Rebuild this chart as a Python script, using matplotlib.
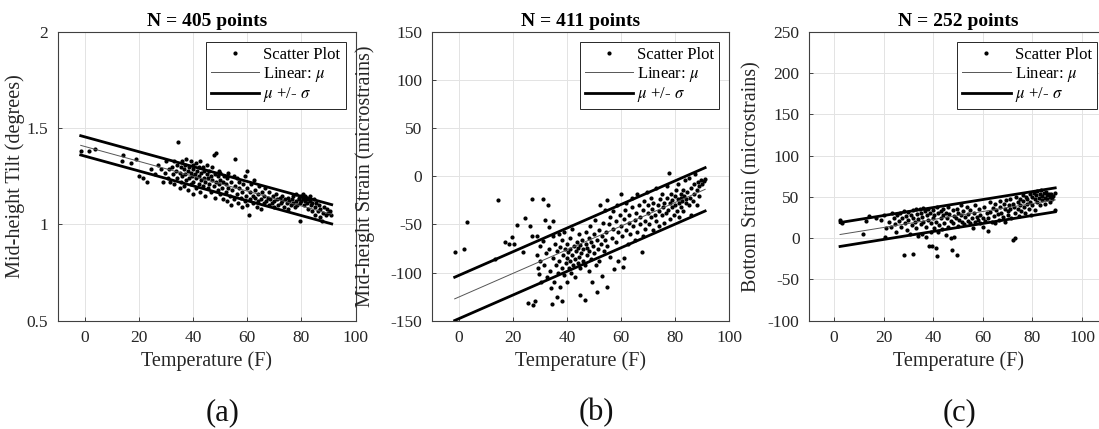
import numpy as np
import matplotlib
matplotlib.use("Agg")
import matplotlib.pyplot as plt
from matplotlib.ticker import FormatStrFormatter

plt.rcParams['font.family'] = ['Liberation Serif', 'DejaVu Serif']
plt.rcParams['mathtext.fontset'] = 'stix'
plt.rcParams['axes.unicode_minus'] = False

# Data: (temperature F, value)
tilt_pts = [
    (-1.5, 1.38), (1.5, 1.38), (3.5, 1.39), (13.5, 1.33), (14, 1.36), (17, 1.32), (19, 1.34), (20, 1.25),
    (21.5, 1.24), (23, 1.22), (24.5, 1.29), (26, 1.26), (27, 1.31), (28, 1.29), (29, 1.22), (29.5, 1.27),
    (30, 1.33), (30.5, 1.24), (31, 1.29), (31.5, 1.22), (32, 1.30), (32.5, 1.26), (33, 1.21), (33, 1.33),
    (33.5, 1.28), (34, 1.24), (34, 1.31), (34.5, 1.43), (35, 1.19), (35, 1.27), (35.5, 1.30), (35.5, 1.22),
    (36, 1.25), (36, 1.33), (36.5, 1.20), (36.5, 1.29), (37, 1.26), (37, 1.31), (37.5, 1.23), (37.5, 1.34),
    (38, 1.18), (38, 1.28), (38.5, 1.24), (38.5, 1.30), (39, 1.21), (39, 1.27), (39, 1.33), (39.5, 1.25),
    (40, 1.16), (40, 1.22), (40, 1.29), (40, 1.31), (40.5, 1.26), (41, 1.19), (41, 1.24), (41, 1.32),
    (41.5, 1.28), (42, 1.21), (42, 1.25), (42, 1.30), (42.5, 1.17), (42.5, 1.33), (43, 1.23), (43, 1.27),
    (43.5, 1.20), (43.5, 1.30), (44, 1.24), (44, 1.28), (44.5, 1.15), (44.5, 1.22), (45, 1.26), (45, 1.31),
    (45.5, 1.19), (45.5, 1.24), (46, 1.28), (46, 1.21), (46.5, 1.25), (46.5, 1.17), (47, 1.23), (47, 1.30),
    (47.5, 1.20), (47.5, 1.36), (48, 1.26), (48, 1.14), (48.5, 1.22), (48.5, 1.37), (49, 1.18), (49, 1.25),
    (49.5, 1.21), (49.5, 1.28), (50, 1.16), (50, 1.23), (50, 1.27), (50.5, 1.19), (51, 1.13), (51, 1.22),
    (51.5, 1.25), (52, 1.17), (52, 1.21), (52.5, 1.12), (52.5, 1.24), (53, 1.19), (53, 1.27), (53.5, 1.15),
    (54, 1.22), (54, 1.10), (54.5, 1.18), (55, 1.25), (55, 1.13), (55.5, 1.20), (55.5, 1.34), (56, 1.16),
    (56, 1.24), (56.5, 1.11), (57, 1.19), (57, 1.22), (57.5, 1.14), (58, 1.09), (58, 1.17), (58.5, 1.21),
    (59, 1.12), (59, 1.25), (59.5, 1.15), (60, 1.19), (60, 1.10), (60, 1.28), (60.5, 1.05), (61, 1.13),
    (61, 1.17), (61.5, 1.21), (62, 1.15), (62, 1.11), (62.5, 1.23), (63, 1.14), (63, 1.18), (63.5, 1.09),
    (64, 1.16), (64, 1.12), (64.5, 1.20), (65, 1.13), (65, 1.08), (65.5, 1.17), (66, 1.11), (66, 1.15),
    (66.5, 1.19), (67, 1.12), (67.5, 1.14), (68, 1.10), (68, 1.17), (68.5, 1.13), (69, 1.11), (69.5, 1.15),
    (70, 1.12), (70, 1.09), (70.5, 1.16), (71, 1.13), (71.5, 1.10), (72, 1.14), (72.5, 1.11), (73, 1.12),
    (73, 1.15), (73.5, 1.09), (74, 1.13), (74.5, 1.11), (75, 1.14), (75, 1.08), (75.5, 1.12), (76, 1.10),
    (76.5, 1.13), (77, 1.11), (77, 1.15), (77.5, 1.09), (78, 1.12), (78, 1.16), (78.5, 1.10), (79, 1.14),
    (79, 1.13), (79.5, 1.11), (79.5, 1.02), (80, 1.15), (80, 1.12), (80.5, 1.14), (80.5, 1.16), (81, 1.13),
    (81, 1.10), (81.5, 1.15), (81.5, 1.12), (82, 1.14), (82, 1.11), (82.5, 1.13), (82.5, 1.08), (83, 1.12),
    (83, 1.15), (83.5, 1.10), (84, 1.11), (84, 1.07), (84.5, 1.13), (85, 1.09), (85, 1.05), (85.5, 1.11),
    (86, 1.07), (86.5, 1.10), (87, 1.04), (87, 1.08), (87.5, 1.02), (88, 1.06), (88.5, 1.09), (89, 1.05),
    (89.5, 1.08), (90, 1.06), (90.5, 1.07), (91, 1.05),
]

mid_strain_pts = [
    (-1.5, -79), (1.8, -75), (3, -47), (13.5, -86), (14.5, -25), (17, -68), (18.5, -70), (19.8, -63),
    (20.4, -70), (21.4, -51), (23.8, -79), (24.5, -43), (25.5, -132), (26.5, -52), (27, -62), (27.2, -24),
    (27.5, -134), (28.3, -130), (28.8, -82), (29, -62), (29.3, -95), (29.6, -101), (30, -72), (30.2, -88),
    (30.5, -110), (31, -24), (31, -67), (31.5, -92), (32, -45), (32.2, -80), (32.5, -105), (33, -30),
    (33.2, -53), (33.5, -75), (33.8, -98), (34, -116), (34.5, -133), (34.8, -62), (35, -46), (35, -85),
    (35.3, -110), (35.6, -70), (36, -92), (36.2, -125), (36.5, -78), (36.8, -100), (37, -60), (37, -88),
    (37.3, -115), (37.6, -73), (38, -130), (38, -95), (38.3, -66), (38.6, -82), (39, -102), (39, -58),
    (39.3, -76), (39.6, -90), (40, -70), (40, -85), (40.2, -110), (40.5, -79), (40.8, -95), (41, -64),
    (41, -88), (41.3, -75), (41.6, -100), (42, -82), (42, -55), (42.3, -92), (42.6, -72), (43, -86),
    (43, -105), (43.3, -78), (43.6, -68), (44, -90), (44, -74), (44.3, -60), (44.6, -84), (44.8, -123),
    (45, -95), (45, -71), (45.3, -80), (45.6, -66), (46, -88), (46, -76), (46.5, -92), (46.8, -128),
    (47, -70), (47, -58), (47.3, -82), (47.6, -74), (48, -64), (48, -98), (48.3, -78), (48.6, -52),
    (49, -86), (49, -68), (49.3, -110), (49.6, -72), (50, -60), (50, -80), (50.3, -45), (50.6, -92),
    (51, -66), (51.3, -120), (51.5, -75), (52, -56), (52, -88), (52.3, -30), (52.6, -70), (53, -62),
    (53, -104), (53.3, -48), (53.6, -78), (54, -35), (54, -66), (54.5, -58), (54.8, -115), (55, -25),
    (55, -72), (55.5, -50), (56, -42), (56, -84), (56.5, -64), (57, -36), (57, -55), (57.5, -96),
    (58, -46), (58, -68), (58.5, -30), (59, -58), (59, -88), (59.5, -40), (60, -18), (60, -52),
    (60.3, -62), (60.6, -94), (61, -44), (61, -85), (61.5, -35), (62, -56), (62, -28), (62.5, -70),
    (63, -48), (63, -40), (63.5, -60), (64, -22), (64, -32), (64.5, -52), (65, -45), (65, -66),
    (65.5, -38), (66, -58), (66, -18), (66.5, -30), (67, -50), (67, -42), (67.8, -79), (68, -35),
    (68, -62), (68.5, -26), (69, -46), (69, -55), (69.5, -16), (70, -38), (70, -30), (70.5, -50),
    (71, -42), (71, -22), (71.5, -34), (72, -56), (72, -28), (72.5, -40), (73, -12), (73, -46),
    (73.5, -30), (74, -36), (74, -52), (74.5, -24), (75, -40), (75, -18), (75.5, -32), (76, -48),
    (76, -28), (76.5, -38), (77, -22), (77, -10), (77.5, -35), (77.9, 3), (78, -28), (78, -44),
    (78.5, -18), (79, -32), (79, -25), (79.5, -40), (80, -20), (80, -30), (80.3, -14), (80.6, -36),
    (81, -24), (81, -8), (81.3, -28), (81.6, -42), (82, -18), (82, -32), (82.3, -22), (82.6, -26),
    (83, -14), (83, -36), (83.3, -20), (83.6, -4), (84, -28), (84, -24), (84.5, -16), (85, -2),
    (85, -30), (85.5, -22), (86, -12), (86, -40), (86.5, -26), (87, -8), (87, -18), (87.5, 2),
    (88, -14), (88, -30), (88.5, -6), (89, -10), (89, -20), (89.5, -4), (90, -8), (90.5, -5), (91, -3),
]

bottom_strain_pts = [
    (2.5, 22), (2.7, 20), (3, 19), (11.6, 5), (13, 21), (14, 27), (17, 24), (19, 22), (20, 28), (20.5, 1),
    (21, 12), (22, 20), (23, 14), (23.5, 30), (24, 24), (24.5, 17), (25, 8), (25.5, 28), (26, 21),
    (26.5, 31), (27, 13), (27.5, 25), (28, -20), (28, 33), (28.5, 18), (29, 27), (29.5, 10), (30, 32),
    (30, 22), (30.5, 5), (31, 28), (31.7, -19), (31.5, 16), (32, 34), (32, 25), (32.5, 20), (33, 35),
    (33, 12), (33.5, 29), (34, 3), (34, 23), (34.5, 36), (35, 30), (35, 17), (35.5, 5), (35.5, 26),
    (36, 37), (36, 20), (36.5, 33), (37, 2), (37, 14), (37.5, 28), (38, 36), (38, 22), (38.4, -10),
    (38.5, 31), (39, 18), (39, 8), (39.6, -10), (40, 34), (40, 25), (40.5, 12), (40.5, 28), (41, -12),
    (41.2, 20), (41.5, -21), (41.5, 38), (42, 30), (42, 7), (42.5, 16), (43, 33), (43, 24), (43.5, 11),
    (44, 36), (44, 28), (44.5, 19), (45, 4), (45, 31), (45.5, 25), (46, 14), (46, 38), (46.5, 29),
    (47, 0), (47, 21), (47.6, -14), (48, 34), (48, 18), (48.5, 1), (48.5, 27), (49, 24), (49.4, -20),
    (49.5, 36), (50, 30), (50, 15), (50.5, 22), (51, 40), (51, 28), (51.5, 20), (52, 33), (52.5, 17),
    (53, 26), (53.5, 38), (54, 21), (54, 29), (55, 18), (55, 34), (55.5, 24), (56, 12), (56.5, 31),
    (57, 20), (57, 40), (57.5, 26), (58, 22), (58.5, 35), (59, 18), (59, 28), (60, 24), (60, 14),
    (60.5, 38), (61, 21), (61.5, 30), (62, 25), (62, 9), (63, 44), (63, 32), (63.5, 20), (64, 37),
    (64.5, 27), (65, 19), (65, 41), (65.5, 34), (66, 29), (66.5, 22), (67, 45), (67, 38), (67.5, 31),
    (68, 26), (68.5, 42), (69, 36), (69, 20), (69.5, 46), (70, 33), (70, 28), (70.5, 40), (71, 48),
    (71, 35), (71.5, 25), (72, -2), (72, 42), (72.5, 38), (73, 0), (73, 30), (73.5, 50), (74, 44),
    (74, 36), (74.5, 27), (75, 48), (75, 40), (75.5, 33), (76, 52), (76, 45), (76.5, 38), (77, 30),
    (77.5, 50), (78, 42), (78, 47), (78.5, 36), (79, 53), (79, 44), (79.5, 28), (80, 50), (80, 40),
    (80.5, 55), (81, 47), (81, 34), (81.5, 52), (82, 44), (82, 57), (82.5, 49), (83, 54), (83, 40),
    (83.5, 58), (84, 51), (84, 46), (84.5, 55), (85, 49), (85, 42), (85.5, 56), (86, 52), (86, 47),
    (86.5, 54), (87, 50), (87, 44), (87.5, 53), (88, 48), (88.5, 51), (89, 34), (89, 55),
]

# Linear fit lines (end points) and sigma
fit_x_a, mu_a, sd_a = [-1.6, 91.2], [1.411, 1.053], 0.05
fit_x_b, mu_b, sd_b = [-1.5, 91.1], [-127.3, -13.5], 22.5
fit_x_c, mu_c, sd_c = [2.4, 89.2], [4.5, 46.5], 14.5

titles = ["N = 405 points", "N = 411 points", "N = 252 points"]
ylabels = ["Mid-height Tilt (degrees)", "Mid-height Strain (microstrains)", "Bottom Strain (microstrains)"]
panel_tags = ["(a)", "(b)", "(c)"]
ylims = [(0.5, 2), (-150, 150), (-100, 250)]
yticks = [[0.5, 1, 1.5, 2], np.arange(-150, 151, 50), np.arange(-100, 251, 50)]
xlims = [(-10, 100), (-10, 100), (-10, 110)]

W, H = 1099, 429
fig = plt.figure(figsize=(W / 100, H / 100), dpi=100)
fig.patch.set_facecolor("white")

ax_left = [58, 431.7, 809.3]
ax_w, ax_h, ax_bot = 297.5, 288.7, 108.3
ylab_x = [-0.11, -0.19, -0.16]
tag_x = [223, 596, 960]

datasets = [
    (tilt_pts, fit_x_a, mu_a, sd_a),
    (mid_strain_pts, fit_x_b, mu_b, sd_b),
    (bottom_strain_pts, fit_x_c, mu_c, sd_c),
]

for i, (pts, fx, fmu, fsd) in enumerate(datasets):
    ax = fig.add_axes([ax_left[i] / W, ax_bot / H, ax_w / W, ax_h / H])
    pts = np.array(pts)
    fx = np.array(fx)
    fmu = np.array(fmu)

    ax.plot(pts[:, 0], pts[:, 1], ls="none", marker="o", ms=2.0, color="black", label="Scatter Plot")
    ax.plot(fx, fmu, color="#555555", lw=0.7, label=r"Linear: $\mu$")
    ax.plot(fx, fmu + fsd, color="black", lw=2.0, label=r"$\mu$ +/- $\sigma$")
    ax.plot(fx, fmu - fsd, color="black", lw=2.0)

    ax.set_xlim(*xlims[i])
    ax.set_ylim(*ylims[i])
    ax.set_xticks(np.arange(0, 101, 20))
    ax.set_yticks(yticks[i])
    ax.yaxis.set_major_formatter(FormatStrFormatter("%g"))
    ax.grid(True, color="#e3e3e3", lw=0.7)
    ax.set_axisbelow(True)
    ax.tick_params(direction="in", length=3, width=0.6, labelsize=12.5, pad=7, colors="#262626")
    for sp in ax.spines.values():
        sp.set_color("#404040")
        sp.set_linewidth(0.8)

    ax.set_title(titles[i], fontsize=14, fontweight="bold", pad=4)
    ax.set_xlabel("Temperature (F)", fontsize=14.5, color="#262626")
    ax.xaxis.set_label_coords(0.5, -0.105)
    ax.set_ylabel(ylabels[i], fontsize=14.5, color="#262626")
    ax.yaxis.set_label_coords(ylab_x[i], 0.5)

    leg = ax.legend(loc="upper right", fontsize=12, frameon=True, fancybox=False,
                    edgecolor="#262626", framealpha=1, handlelength=2.9, handletextpad=0.25,
                    labelspacing=0.1, borderpad=0.3, borderaxespad=0.6, markerscale=1.0)
    leg.get_frame().set_linewidth(0.7)

    fig.text(tag_x[i] / W, 16 / H, panel_tags[i], fontsize=22, ha="center", va="center", color="#111111")

fig.savefig("out.png", dpi=100, facecolor="white")
